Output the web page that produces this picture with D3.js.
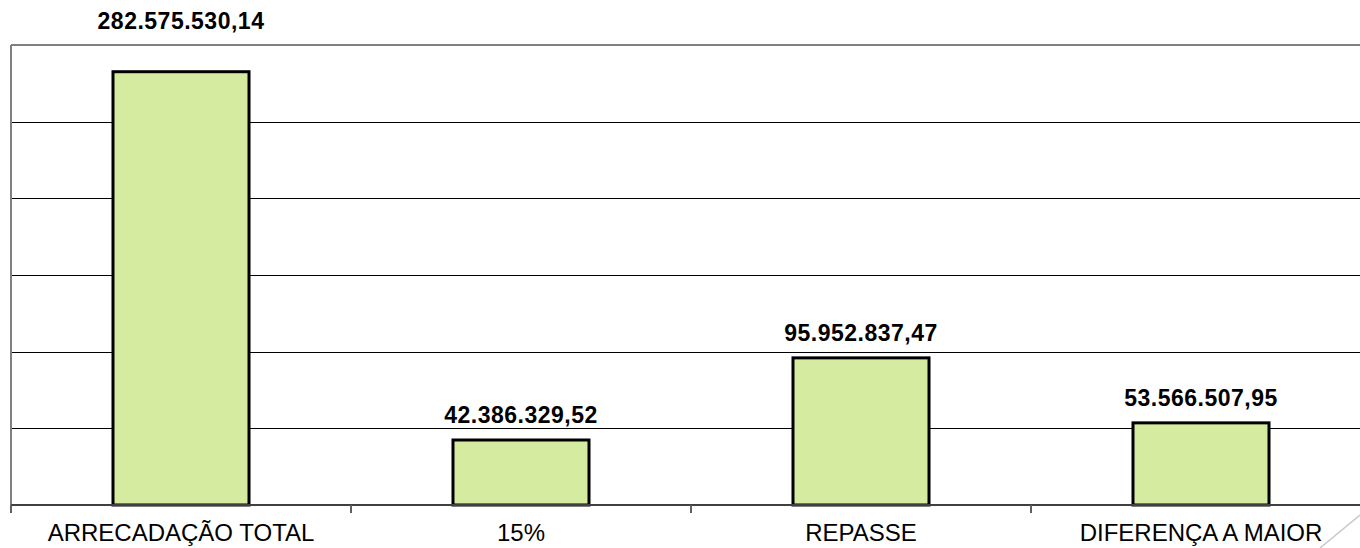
<!DOCTYPE html>
<html>
<head>
<meta charset="utf-8">
<script src="https://cdn.jsdelivr.net/npm/d3@7"></script>
<style>
  body { margin: 0; background: #fff; }
  svg { display: block; font-family: "Liberation Sans", Arial, sans-serif; }
</style>
</head>
<body>
<div id="chart"></div>
<script>
// chart data
const categories = ['ARRECADAÇÃO TOTAL', '15%', 'REPASSE', 'DIFERENÇA A MAIOR'];
const values = [282575530.14, 42386329.52, 95952837.47, 53566507.95];
const valueLabels = ['282.575.530,14', '42.386.329,52', '95.952.837,47', '53.566.507,95'];
const yTicks = [0, 50000000, 100000000, 150000000, 200000000, 250000000, 300000000];

const width = 1360, height = 548;
const plotLeft = 11, plotRight = 1371, plotTop = 45, plotBottom = 505;

const svg = d3.select('#chart').append('svg')
  .attr('width', width)
  .attr('height', height);

const x = d3.scaleBand()
  .domain(categories)
  .range([plotLeft, plotRight])
  .paddingInner(0.6)
  .paddingOuter(0.3);

const y = d3.scaleLinear()
  .domain([0, 300000000])
  .range([plotBottom, plotTop]);

// gridlines
svg.append('g')
  .selectAll('line')
  .data(yTicks.slice(1, -1))
  .enter()
  .append('line')
  .attr('x1', plotLeft)
  .attr('x2', width)
  .attr('y1', d => Math.round(y(d)) + 0.5)
  .attr('y2', d => Math.round(y(d)) + 0.5)
  .attr('stroke', '#000')
  .attr('stroke-width', 1);

// top border
svg.append('line')
  .attr('x1', plotLeft).attr('x2', width)
  .attr('y1', plotTop).attr('y2', plotTop)
  .attr('stroke', '#808080').attr('stroke-width', 2);

// left axis
svg.append('line')
  .attr('x1', plotLeft).attr('x2', plotLeft)
  .attr('y1', plotTop).attr('y2', plotBottom)
  .attr('stroke', '#808080').attr('stroke-width', 2);

// bars
svg.append('g')
  .selectAll('rect')
  .data(values)
  .enter()
  .append('rect')
  .attr('x', (d, i) => x(categories[i]))
  .attr('y', d => y(d))
  .attr('width', x.bandwidth())
  .attr('height', d => plotBottom - y(d))
  .attr('fill', '#d5eca0')
  .attr('stroke', '#000')
  .attr('stroke-width', 3);

// bottom axis
const xAxis = d3.axisBottom(x).tickSize(0).tickPadding(0);
const axisG = svg.append('g')
  .attr('transform', `translate(0,${plotBottom})`)
  .call(xAxis);
axisG.select('.domain').remove();
axisG.selectAll('.tick line').remove();
axisG.selectAll('.tick text')
  .attr('y', 36)
  .attr('dy', 0)
  .attr('font-size', 24)
  .attr('font-family', '"Liberation Sans", Arial, sans-serif')
  .attr('fill', '#000');

svg.append('line')
  .attr('x1', plotLeft).attr('x2', width)
  .attr('y1', plotBottom).attr('y2', plotBottom)
  .attr('stroke', '#404040').attr('stroke-width', 2);

// ticks between categories
const boundaries = categories.map((c, i) => plotLeft + i * x.step());
svg.append('g')
  .selectAll('line')
  .data(boundaries)
  .enter()
  .append('line')
  .attr('x1', d => d).attr('x2', d => d)
  .attr('y1', plotBottom).attr('y2', plotBottom + 8)
  .attr('stroke', '#606060').attr('stroke-width', 2);

// value labels (the tallest one sits above the plot frame)
svg.append('g')
  .selectAll('text')
  .data(values)
  .enter()
  .append('text')
  .attr('x', (d, i) => x(categories[i]) + x.bandwidth() / 2)
  .attr('y', d => (y(d) - 34 < plotTop ? 29 : y(d) - 17))
  .attr('text-anchor', 'middle')
  .attr('font-size', 23)
  .attr('font-weight', 'bold')
  .attr('letter-spacing', 0.5)
  .attr('fill', '#000')
  .text((d, i) => valueLabels[i]);

// page corner mark
svg.append('line')
  .attr('x1', 1320).attr('y1', 548)
  .attr('x2', 1360).attr('y2', 515)
  .attr('stroke', '#c8c8c8').attr('stroke-width', 1.5);
</script>
</body>
</html>
